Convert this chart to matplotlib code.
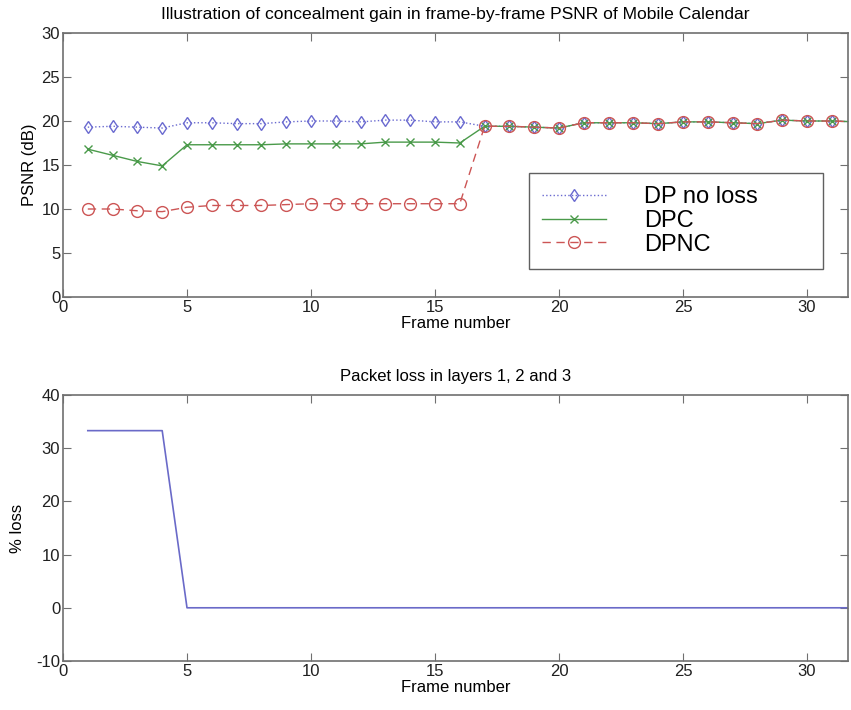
import matplotlib
matplotlib.use("Agg")
import matplotlib.pyplot as plt
import numpy as np

plt.rcParams['font.family'] = ['Liberation Sans', 'DejaVu Sans']
plt.rcParams['axes.unicode_minus'] = False

frames = list(range(1, 33))
dp_no_loss = [19.3, 19.4, 19.3, 19.2, 19.8, 19.8, 19.7, 19.7, 19.9, 20.0, 20.0, 19.9,
              20.1, 20.1, 19.9, 19.9, 19.4, 19.4, 19.3, 19.2, 19.8, 19.8, 19.8, 19.7,
              19.9, 19.9, 19.8, 19.7, 20.1, 20.0, 20.0, 19.9]
dpc = [16.8, 16.1, 15.4, 14.9, 17.3, 17.3, 17.3, 17.3, 17.4, 17.4, 17.4, 17.4,
       17.6, 17.6, 17.6, 17.5, 19.4, 19.4, 19.3, 19.2, 19.8, 19.8, 19.8, 19.7,
       19.9, 19.9, 19.8, 19.7, 20.1, 20.0, 20.0, 19.9]
dpnc = [10.0, 10.0, 9.8, 9.7, 10.2, 10.4, 10.4, 10.4, 10.5, 10.6, 10.6, 10.6,
        10.6, 10.6, 10.6, 10.6, 19.4, 19.4, 19.3, 19.2, 19.8, 19.8, 19.8, 19.7,
        19.9, 19.9, 19.8, 19.7, 20.1, 20.0, 20.0, 19.9]
loss_pct = [33.3, 33.3, 33.3, 33.3] + [0.0] * 28

series_labels = ["DP no loss", "DPC", "DPNC"]
x_ticks = [0, 5, 10, 15, 20, 25, 30]
psnr_ticks = [0, 5, 10, 15, 20, 25, 30]
loss_ticks = [-10, 0, 10, 20, 30, 40]

fig = plt.figure(figsize=(8.51, 7.10), dpi=100)
W, H = 851, 710
def pos(l, t, r, b):
    return [l / W, 1 - b / H, (r - l) / W, (b - t) / H]

ax1 = fig.add_axes(pos(63, 33, 848, 297))
ax2 = fig.add_axes(pos(63, 395, 848, 661))
XMAX = (848 - 63) / 24.8

axis_col = '#707070'
blue = '#6a6ad0'
green = '#4a9a4a'
red = '#cc5555'
FS = 12

ax1.plot(frames, dp_no_loss, linestyle=':', color=blue, marker='d', markersize=6.5,
         markerfacecolor='none', markeredgecolor=blue, linewidth=1, label=series_labels[0])
ax1.plot(frames, dpc, linestyle='-', color=green, marker='x', markersize=6,
         linewidth=1, label=series_labels[1])
ax1.plot(frames, dpnc, linestyle=(0, (6, 4)), color=red, marker='o', markersize=8.5,
         markerfacecolor='none', markeredgecolor=red, linewidth=1, label=series_labels[2])
ax1.set_xlim(0, XMAX)
ax1.set_ylim(0, 30)
ax1.set_xticks(x_ticks)
ax1.set_yticks(psnr_ticks)
ax1.set_title("Illustration of concealment gain in frame-by-frame PSNR of Mobile Calendar",
              fontsize=12.6, pad=10)
ax1.set_xlabel("Frame number", fontsize=FS, labelpad=1)
ax1.set_ylabel("PSNR (dB)", fontsize=FS, labelpad=3)
leg = ax1.legend(loc='upper left', bbox_to_anchor=(0.594, 0.098, 0.374, 0.372),
                 mode='expand', fontsize=17,
                 frameon=True, fancybox=False, framealpha=1, edgecolor='#606060',
                 handlelength=2.7, handletextpad=1.6, labelspacing=0.08,
                 borderpad=0.55, borderaxespad=0)
leg.get_frame().set_linewidth(1)

ax2.plot(frames, loss_pct, color='#6a6ac8', linewidth=1.2)
ax2.set_xlim(0, XMAX)
ax2.set_ylim(-10, 40)
ax2.set_xticks(x_ticks)
ax2.set_yticks(loss_ticks)
ax2.set_title("Packet loss in layers 1, 2 and 3", fontsize=FS, pad=10)
ax2.set_xlabel("Frame number", fontsize=FS, labelpad=1)
ax2.set_ylabel("% loss", fontsize=FS, labelpad=8)

for ax in (ax1, ax2):
    for s in ax.spines.values():
        s.set_color(axis_col)
        s.set_linewidth(1.2)
    ax.tick_params(direction='in', top=True, right=True, length=6, width=0.8,
                   colors=axis_col, labelsize=FS, labelcolor='#202020', pad=2)

fig.savefig("out.png", dpi=100)
